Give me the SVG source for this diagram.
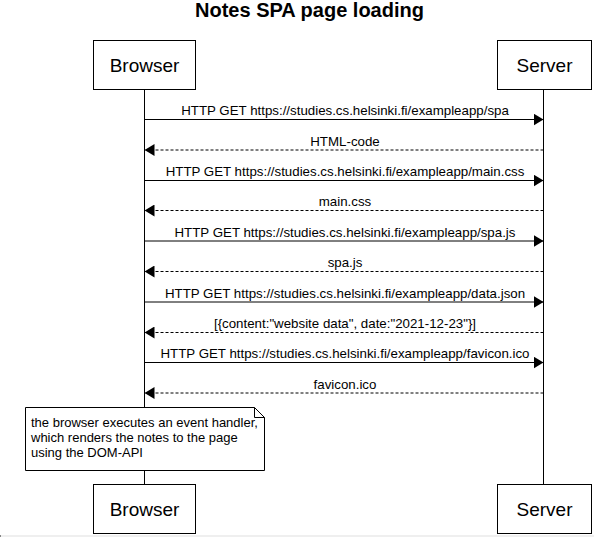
<svg xmlns="http://www.w3.org/2000/svg" width="594" height="537" viewBox="0 0 594 537">
<style>
  .box { fill: #ffffff; stroke: #000000; stroke-width: 1; }
  .life { stroke: #000000; stroke-width: 1; fill: none; }
  .msg { stroke: #000000; stroke-width: 1; fill: none; }
  .dash { stroke-dasharray: 3 2; }
  .actor { font-family: "Liberation Sans", Arial, sans-serif; font-size: 19px; fill: #000; text-anchor: middle; }
  .lbl { font-family: "Liberation Sans", Arial, sans-serif; font-size: 13.3px; fill: #000; text-anchor: middle; }
  .note { font-family: "Liberation Sans", Arial, sans-serif; font-size: 13px; fill: #000; }
  .title { font-family: "Liberation Sans", Arial, sans-serif; font-size: 20px; font-weight: bold; fill: #000; text-anchor: middle; }
</style>
<defs>
  <marker id="head" viewBox="0 0 10 12" refX="10" refY="6" markerWidth="10" markerHeight="12" markerUnits="userSpaceOnUse" orient="auto">
    <path d="M0,0 L10,6 L0,12 Z" fill="#000"/>
  </marker>
</defs>
<rect x="0" y="0" width="594" height="537" fill="#ffffff"/>
<rect x="0" y="535" width="594" height="2" fill="#efefef"/>
<rect x="0" y="535" width="1" height="2" fill="#888"/>
<text class="title" x="309.5" y="17">Notes SPA page loading</text>

<g id="lifelines">
  <line class="life" x1="144.5" y1="90" x2="144.5" y2="484"/>
  <line class="life" x1="543.5" y1="90" x2="543.5" y2="484"/>
</g>

<g id="browser-top">
  <rect class="box" x="93.5" y="40.5" width="102" height="49"/>
  <text class="actor" x="144.5" y="71.8">Browser</text>
</g>
<g id="server-top">
  <rect class="box" x="497.5" y="40.5" width="94" height="49"/>
  <text class="actor" x="544.5" y="71.8">Server</text>
</g>
<g id="browser-bottom">
  <rect class="box" x="93.5" y="484.5" width="102" height="49"/>
  <text class="actor" x="144.5" y="515.5">Browser</text>
</g>
<g id="server-bottom">
  <rect class="box" x="497.5" y="484.5" width="94" height="49"/>
  <text class="actor" x="544.5" y="515.5">Server</text>
</g>

<g id="connectors">
  <line class="msg" x1="144.5" y1="119.5" x2="543.5" y2="119.5" marker-end="url(#head)"/>
  <text class="lbl" x="345" y="115">HTTP GET https://studies.cs.helsinki.fi/exampleapp/spa</text>
  <line class="msg dash" x1="543.5" y1="150" x2="144.5" y2="150" marker-end="url(#head)"/>
  <text class="lbl" x="345" y="145.5">HTML-code</text>
  <line class="msg" x1="144.5" y1="180.5" x2="543.5" y2="180.5" marker-end="url(#head)"/>
  <text class="lbl" x="345" y="176">HTTP GET https://studies.cs.helsinki.fi/exampleapp/main.css</text>
  <line class="msg dash" x1="543.5" y1="210.5" x2="144.5" y2="210.5" marker-end="url(#head)"/>
  <text class="lbl" x="345" y="206">main.css</text>
  <line class="msg" x1="144.5" y1="241" x2="543.5" y2="241" marker-end="url(#head)"/>
  <text class="lbl" x="345" y="236.5">HTTP GET https://studies.cs.helsinki.fi/exampleapp/spa.js</text>
  <line class="msg dash" x1="543.5" y1="271.5" x2="144.5" y2="271.5" marker-end="url(#head)"/>
  <text class="lbl" x="345" y="267">spa.js</text>
  <line class="msg" x1="144.5" y1="302" x2="543.5" y2="302" marker-end="url(#head)"/>
  <text class="lbl" x="345" y="297.5">HTTP GET https://studies.cs.helsinki.fi/exampleapp/data.json</text>
  <line class="msg dash" x1="543.5" y1="332.5" x2="144.5" y2="332.5" marker-end="url(#head)"/>
  <text class="lbl" x="345" y="328">[{content:"website data", date:"2021-12-23"}]</text>
  <line class="msg" x1="144.5" y1="362.5" x2="543.5" y2="362.5" marker-end="url(#head)"/>
  <text class="lbl" x="345" y="358">HTTP GET https://studies.cs.helsinki.fi/exampleapp/favicon.ico</text>
  <line class="msg dash" x1="543.5" y1="393" x2="144.5" y2="393" marker-end="url(#head)"/>
  <text class="lbl" x="345" y="388.5">favicon.ico</text>
</g>

<g id="note">
  <path class="box" d="M25.5,407.5 L254.5,407.5 L264.5,417.5 L264.5,470.5 L25.5,470.5 Z"/>
  <path class="life" d="M254.5,407.5 L254.5,417.5 L264.5,417.5"/>
  <text class="note" x="31" y="426.5">the browser executes an event handler,</text>
  <text class="note" x="31" y="441.8">which renders the notes to the page</text>
  <text class="note" x="31" y="457.1">using the DOM-API</text>
</g>
</svg>
